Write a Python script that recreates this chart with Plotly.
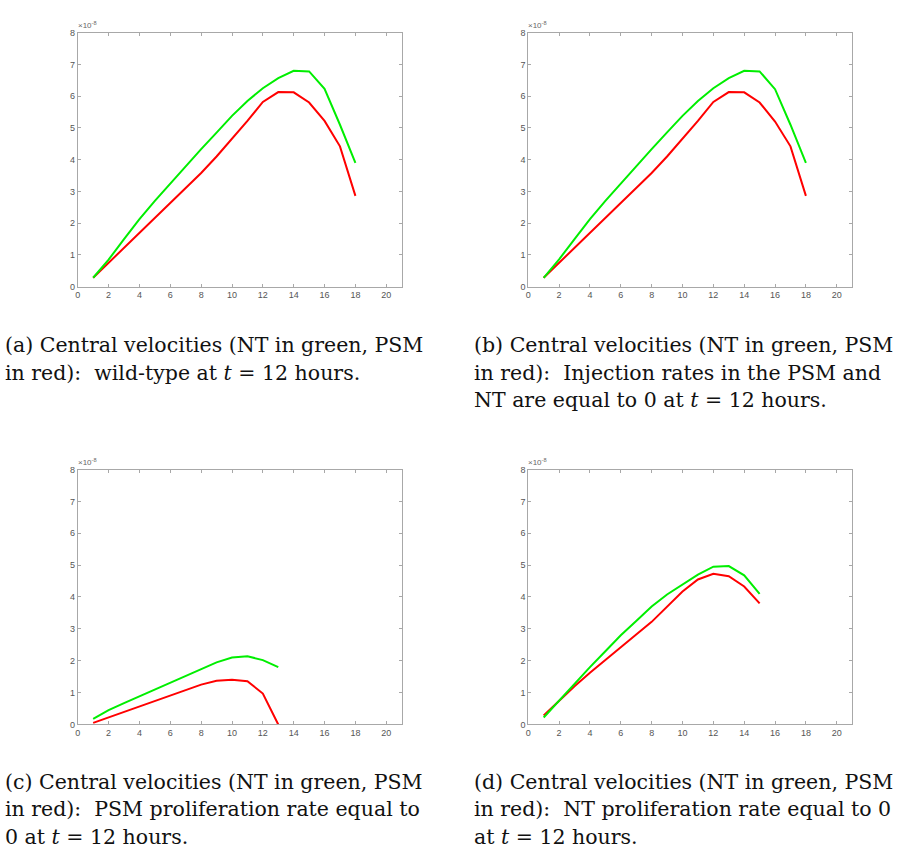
import plotly.graph_objects as go

# central velocities (x 1e-8), hours 1..n
x_ab = list(range(1, 19))
nt_a = [0.28, 0.85, 1.5, 2.13, 2.7, 3.25, 3.8, 4.33, 4.85, 5.38, 5.85, 6.25, 6.57, 6.8, 6.78, 6.23, 5.1, 3.9]
psm_a = [0.28, 0.75, 1.25, 1.7, 2.18, 2.65, 3.1, 3.58, 4.1, 4.65, 5.22, 5.82, 6.13, 6.12, 5.8, 5.22, 4.42, 2.86]

nt_b = [0.28, 0.86, 1.5, 2.13, 2.7, 3.25, 3.8, 4.33, 4.86, 5.38, 5.85, 6.25, 6.57, 6.8, 6.78, 6.22, 5.1, 3.9]
psm_b = [0.28, 0.75, 1.25, 1.7, 2.18, 2.65, 3.1, 3.58, 4.1, 4.65, 5.22, 5.82, 6.13, 6.12, 5.8, 5.2, 4.42, 2.86]

x_c = list(range(1, 14))
nt_c = [0.18, 0.45, 0.67, 0.88, 1.1, 1.32, 1.52, 1.74, 1.95, 2.1, 2.14, 2.02, 1.8]
psm_c = [0.05, 0.22, 0.4, 0.57, 0.73, 0.9, 1.07, 1.25, 1.37, 1.4, 1.36, 0.97, 0.0]

x_d = list(range(1, 16))
nt_d = [0.22, 0.75, 1.27, 1.8, 2.3, 2.8, 3.25, 3.7, 4.08, 4.4, 4.7, 4.95, 4.97, 4.68, 4.1]
psm_d = [0.28, 0.75, 1.2, 1.62, 2.03, 2.43, 2.82, 3.22, 3.7, 4.17, 4.55, 4.73, 4.65, 4.33, 3.8]

captions = [
    ["(a) Central velocities (NT in green, PSM", "in red):  wild-type at <i>t</i> = 12 hours."],
    ["(b) Central velocities (NT in green, PSM", "in red):  Injection rates in the PSM and", "NT are equal to 0 at <i>t</i> = 12 hours."],
    ["(c) Central velocities (NT in green, PSM", "in red):  PSM proliferation rate equal to", "0 at <i>t</i> = 12 hours."],
    ["(d) Central velocities (NT in green, PSM", "in red):  NT proliferation rate equal to 0", "at <i>t</i> = 12 hours."],
]

W, H = 904, 855


def px(x):
    return x / W


def py(y):
    return 1 - y / H


# axes boxes in pixels: left, right, top, bottom
boxes = [(75, 400, 28, 285), (527, 852, 28, 285), (75, 400, 470, 728), (527, 852, 470, 728)]
cap_pos = [(0, 344), (471, 344), (0, 786), (471, 786)]
series = [(x_ab, nt_a, psm_a), (x_ab, nt_b, psm_b), (x_c, nt_c, psm_c), (x_d, nt_d, psm_d)]

fig = go.Figure()
for i, (xs, nt, psm) in enumerate(series):
    n = "" if i == 0 else str(i + 1)
    l, r, t, b = boxes[i]
    fig.add_trace(go.Scatter(x=xs, y=psm, mode="lines", line=dict(color="#ff0000", width=2),
                             xaxis="x" + n, yaxis="y" + n, showlegend=False))
    fig.add_trace(go.Scatter(x=xs, y=nt, mode="lines", line=dict(color="#00ee00", width=2),
                             xaxis="x" + n, yaxis="y" + n, showlegend=False))
    ax = dict(showline=True, linecolor="#a8a8a8", linewidth=1, mirror="ticks", ticks="inside",
              ticklen=3, tickcolor="#a8a8a8", showgrid=False, zeroline=False,
              tickfont=dict(family="Liberation Sans", size=9, color="#555555"))
    fig.update_layout(**{
        "xaxis" + n: dict(ax, domain=[px(l), px(r)], range=[0, 21], tickvals=list(range(0, 21, 2)),
                          anchor="y" + n),
        "yaxis" + n: dict(ax, domain=[py(b), py(t)], range=[0, 8], tickvals=list(range(0, 9)),
                          anchor="x" + n),
    })
    fig.add_annotation(text="\u00d710<sup>-8</sup>", xref="paper", yref="paper",
                       x=px(l - 2), y=py(t - 1), xanchor="left", yanchor="bottom",
                       showarrow=False, font=dict(family="Liberation Sans", size=8, color="#666666"))
    cx, cy = cap_pos[i]
    for k, line in enumerate(captions[i]):
        fig.add_annotation(text=line, xref="paper", yref="paper", x=px(cx), y=py(cy + 28 * k),
                           xanchor="left", yanchor="middle", showarrow=False,
                           font=dict(family="DejaVu Serif", size=20.5, color="#111111"))

fig.update_layout(width=W, height=H, margin=dict(l=0, r=0, t=0, b=0),
                  paper_bgcolor="white", plot_bgcolor="white")
# drop the default page margin so the figure sits at the window's corner
fig.write_html("out.html", config={"displayModeBar": False},
               post_script="document.body.style.margin = '0';")
